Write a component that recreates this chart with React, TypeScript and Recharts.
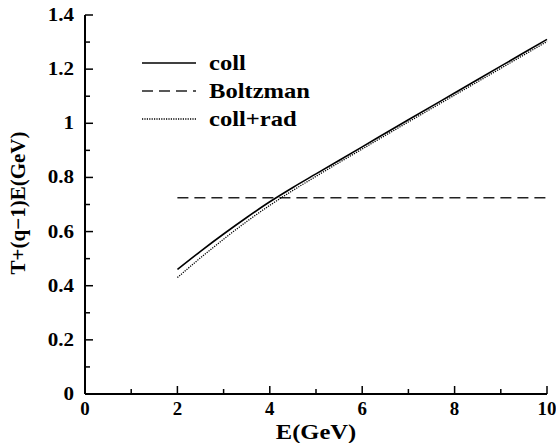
import React from "react";
import { LineChart, Line, XAxis, YAxis, Legend } from "recharts";

// energies (GeV) where curves are sampled
const energies = [2, 2.5, 3, 3.5, 4, 4.5, 5, 6, 7, 8, 9, 10];
const coll = [0.46, 0.527, 0.591, 0.652, 0.71, 0.763, 0.813, 0.913, 1.013, 1.112, 1.211, 1.31];
const collRad = [0.43, 0.503, 0.572, 0.637, 0.697, 0.752, 0.804, 0.905, 1.005, 1.104, 1.203, 1.302];
const boltzman = [0.725, 0.725, 0.725, 0.725, 0.725, 0.725, 0.725, 0.725, 0.725, 0.725, 0.725, 0.725];

const xTicks = [0, 1, 2, 3, 4, 5, 6, 7, 8, 9, 10];
const yTicks = [0, 0.1, 0.2, 0.3, 0.4, 0.5, 0.6, 0.7, 0.8, 0.9, 1, 1.1, 1.2, 1.3, 1.4];
const legendOrder = ["coll", "Boltzman", "coll+rad"];

const data = energies.map((e, i) => ({
  e,
  coll: coll[i],
  boltz: boltzman[i],
  rad: collRad[i],
}));

const FONT = "'Liberation Serif', 'Times New Roman', serif";
// the original figure is a bit stretched sideways
const SX = 1.17;
const TICK_SX = 1.05;
const stretch = (x: number, y: number, s = SX) => `translate(${x} ${y}) scale(${s} 1) translate(${-x} ${-y})`;

const seriesStyle: Record<string, { dash?: string; width: number; color: string }> = {
  coll: { width: 1.6, color: "#000" },
  Boltzman: { dash: "11 6", width: 1.6, color: "#222" },
  "coll+rad": { dash: "1.2 1.2", width: 1.3, color: "#000" },
};

const isMajorX = (v: number) => Math.round(v) % 2 === 0;
const isMajorY = (v: number) => Math.round(v * 10) % 2 === 0;

const BottomTick = (props: any) => {
  const { x, y, payload } = props;
  const major = isMajorX(payload.value);
  return (
    <g>
      <line x1={x} x2={x} y1={y} y2={y - (major ? 8 : 5)} stroke="#000" strokeWidth={1.5} />
      {major && (
        <text x={x} y={y + 21} transform={stretch(x, y + 21, TICK_SX)} textAnchor="middle" fontFamily={FONT} fontWeight="bold" fontSize={18} fill="#000">
          {payload.value}
        </text>
      )}
    </g>
  );
};

const TopTick = (props: any) => {
  const { x, y, payload } = props;
  const major = isMajorX(payload.value);
  return <line x1={x} x2={x} y1={y} y2={y + (major ? 8 : 5)} stroke="#000" strokeWidth={1.5} />;
};

const LeftTick = (props: any) => {
  const { x, y, payload } = props;
  const major = isMajorY(payload.value);
  return (
    <g>
      <line x1={x} x2={x + (major ? 8 : 5)} y1={y} y2={y} stroke="#000" strokeWidth={1.5} />
      {major && (
        <text x={x - 11} y={y + 6} transform={stretch(x - 11, y + 6)} textAnchor="end" fontFamily={FONT} fontWeight="bold" fontSize={18} fill="#000">
          {payload.value}
        </text>
      )}
    </g>
  );
};

const RightTick = (props: any) => {
  const { x, y, payload } = props;
  const major = isMajorY(payload.value);
  return <line x1={x} x2={x - (major ? 8 : 5)} y1={y} y2={y} stroke="#000" strokeWidth={1.5} />;
};

const LegendBox = (props: any) => {
  const payload: any[] = props.payload || [];
  return (
    <div>
      {legendOrder.map((name) => {
        const p = payload.find((q) => q.value === name);
        if (!p) return null;
        const s = seriesStyle[name];
        return (
          <div key={name} style={{ display: "flex", alignItems: "center", height: 28 }}>
            <svg width={54} height={10} style={{ marginRight: 13 }}>
              <line x1={0} x2={54} y1={5} y2={5} stroke={s.color} strokeWidth={s.width} strokeDasharray={s.dash} />
            </svg>
            <span
              style={{
                display: "inline-block",
                fontFamily: FONT,
                fontWeight: "bold",
                fontSize: 21,
                color: "#000",
                lineHeight: "28px",
                whiteSpace: "nowrap",
                transform: `scaleX(${SX})`,
                transformOrigin: "left center",
              }}
            >
              {name}
            </span>
          </div>
        );
      })}
    </div>
  );
};

export default function App() {
  const axisLine = { stroke: "#000", strokeWidth: 2 };
  return (
    <div style={{ position: "absolute", left: 0, top: 0, background: "#fff" }}>
      <LineChart width={556} height={443} data={data} margin={{ top: 15, right: 9, left: 0, bottom: 0 }}>
        <XAxis
          dataKey="e"
          type="number"
          domain={[0, 10]}
          ticks={xTicks}
          interval={0}
          height={49}
          tickSize={0}
          tickMargin={0}
          tickLine={false}
          axisLine={axisLine}
          tick={<BottomTick />}
          label={{
            content: (lp: any) => {
              const vb = lp.viewBox;
              const cx = vb.x + vb.width / 2;
              const cy = vb.y + 45;
              return (
                <text x={cx} y={cy} transform={stretch(cx, cy)} textAnchor="middle" fontFamily={FONT} fontWeight="bold" fontSize={21} fill="#000">
                  E(GeV)
                </text>
              );
            },
          }}
        />
        <XAxis
          xAxisId="top"
          dataKey="e"
          type="number"
          orientation="top"
          domain={[0, 10]}
          ticks={xTicks}
          interval={0}
          height={0}
          tickSize={0}
          tickMargin={0}
          tickLine={false}
          axisLine={axisLine}
          tick={<TopTick />}
        />
        <YAxis
          type="number"
          domain={[0, 1.4]}
          ticks={yTicks}
          interval={0}
          width={85}
          tickSize={0}
          tickMargin={0}
          tickLine={false}
          axisLine={axisLine}
          tick={<LeftTick />}
          label={{
            content: () => {
              const cx = 18;
              const cy = 203;
              return (
                <text x={cx} y={cy} transform={`rotate(-90 ${cx} ${cy})`} textAnchor="middle" dominantBaseline="central" fontFamily={FONT} fontWeight="bold" fontSize={21} fill="#000">
                  T+(q−1)E(GeV)
                </text>
              );
            },
          }}
        />
        <YAxis
          yAxisId="right"
          orientation="right"
          type="number"
          domain={[0, 1.4]}
          ticks={yTicks}
          interval={0}
          width={0}
          tickSize={0}
          tickMargin={0}
          tickLine={false}
          axisLine={axisLine}
          tick={<RightTick />}
        />
        <Legend
          layout="vertical"
          verticalAlign="middle"
          align="center"
          wrapperStyle={{ top: 49, left: 142, width: "auto", height: "auto" }}
          content={<LegendBox />}
        />
        <Line dataKey="coll" name="coll" type="monotone" stroke="#000" strokeWidth={1.6} dot={false} isAnimationActive={false} />
        <Line dataKey="boltz" name="Boltzman" type="linear" stroke="#222" strokeWidth={1.6} strokeDasharray="11 6" dot={false} isAnimationActive={false} />
        <Line dataKey="rad" name="coll+rad" type="monotone" stroke="#000" strokeWidth={1.3} strokeDasharray="1.2 1.2" dot={false} isAnimationActive={false} />
      </LineChart>
    </div>
  );
}
